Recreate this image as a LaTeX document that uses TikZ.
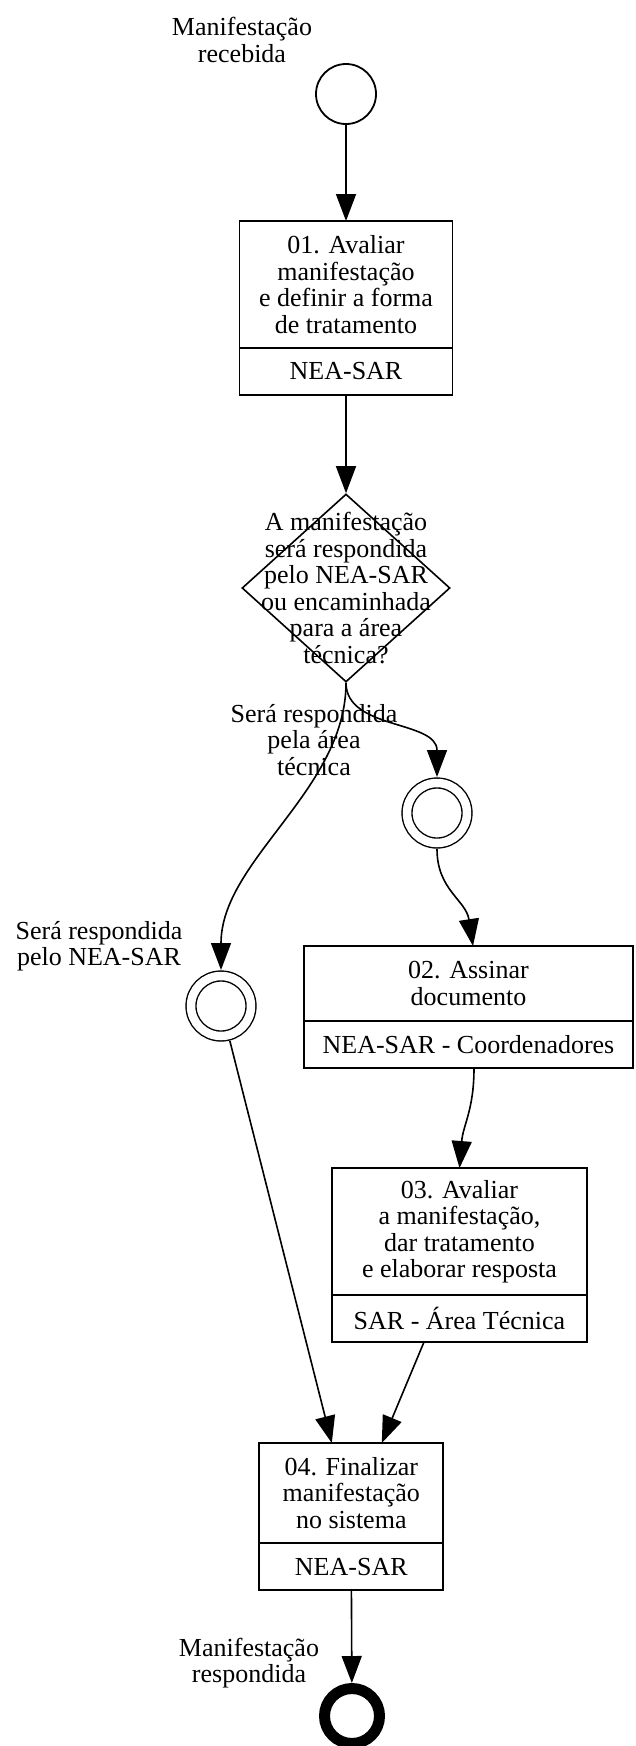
\documentclass[tikz,border=0pt]{standalone}
\usepackage{fontspec}
\setmainfont{Liberation Serif}
\usetikzlibrary{positioning,arrows.meta,shapes.geometric}

\begin{document}
\begin{tikzpicture}[
  x=1pt, y=1pt,
  font=\fontsize{26}{26.5}\selectfont,
  >={Triangle[length=27pt,width=20pt]},
  task/.style={draw=black, line width=1.8pt, align=center, inner sep=0pt, outer sep=0pt},
  role/.style={task, minimum height=47},
  evt/.style={circle, draw=black, line width=1.8pt, minimum size=60, inner sep=0pt},
  ievt/.style={circle, draw=black, line width=1.4pt, double, double distance=8.5pt,
               minimum size=60, inner sep=0pt, outer sep=6pt},
  endevt/.style={circle, draw=black, line width=11pt, minimum size=55, inner sep=0pt},
  gw/.style={diamond, draw=black, line width=1.6pt, minimum width=208, minimum height=188, inner sep=0pt},
  lbl/.style={align=center, inner sep=0pt},
  arr/.style={->, draw=black, line width=1.6pt}
]
\useasboundingbox (0,0) rectangle (635,-1746);
% ---------------- start
\node[evt] (s) at (346,-94) {};
\node[lbl] (ls) at (242,-40) {Manifestação\\ recebida};
% ---------------- task 01
\node[task, minimum width=213, minimum height=127] (t1) at (346,-284.5)
  {01. Avaliar\\ manifestação\\ e definir a forma\\ de tratamento};
\node[role, minimum width=213, below=0pt of t1] (r1) {NEA-SAR};
\draw[arr] (s) -- (t1);
% ---------------- gateway
\node[gw] (q) at (346,-588) {};
\node[lbl] (lq) at (q) {A manifestação\\ será respondida\\ pelo NEA-SAR\\ ou encaminhada\\ para a área\\ técnica?};
\draw[arr] (r1) -- (q);
% ---------------- intermediate events
\node[ievt] (p1) at (221,-1006) {};
\node[ievt] (p2) at (437,-813) {};
\node[lbl] (l1) at (314,-740) {Será respondida\\ pela área\\ técnica};
\node[lbl] (l2) at (99,-946) {Será respondida\\ pelo NEA-SAR};
\draw[arr] (q.south) .. controls (346,-790) and (221,-860) .. (p1.north);
\draw[arr] (q.south) .. controls (346,-730) and (437,-720) .. (p2.north);
% ---------------- tasks 02 and 03
\node[task, minimum width=329, minimum height=75] (t2) at (468.5,-983.5)
  {02. Assinar\\ documento};
\node[role, minimum width=329, below=0pt of t2] (r2) {NEA-SAR - Coordenadores};
\node[task, minimum width=255, minimum height=127] (t3) at (459.5,-1231.5)
  {03. Avaliar\\ a manifestação,\\ dar tratamento\\ e elaborar resposta};
\node[role, minimum width=255, below=0pt of t3] (r3) {SAR - Área Técnica};
\draw[arr] (p2.south) .. controls (437,-890) and (466,-900) .. ([xshift=4.5]t2.north);
\draw[arr] ([xshift=5.5]r2.south) .. controls (474,-1110) and (463,-1125) .. (t3.north);
% ---------------- task 04 and end
\node[task, minimum width=184, minimum height=100] (t4) at (351.3,-1493)
  {04. Finalizar\\ manifestação\\ no sistema};
\node[role, minimum width=184, below=0pt of t4] (r4) {NEA-SAR};
\draw[arr] (p1) -- ([xshift=-19.5]t4.north);
\draw[arr] ([xshift=-35.5]r3.south) -- ([xshift=30.5]t4.north);
\node[endevt] (e) at (352,-1716) {};
\node[lbl] (le) at (249,-1663) {Manifestação\\ respondida};
\draw[arr] (r4) -- (e);
\end{tikzpicture}
\end{document}
